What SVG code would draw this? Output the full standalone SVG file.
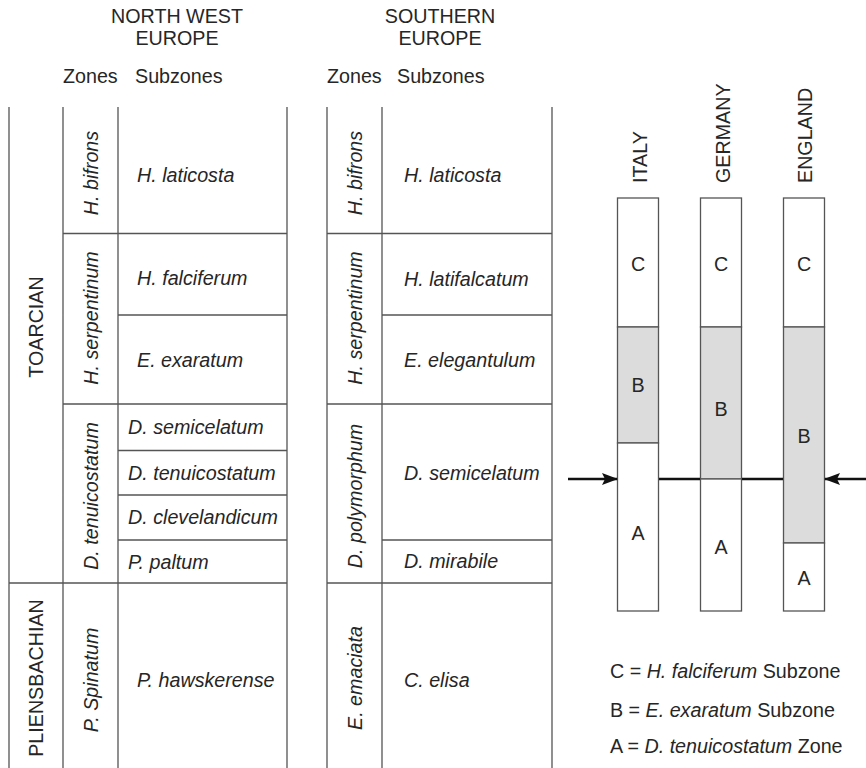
<svg xmlns="http://www.w3.org/2000/svg" width="866" height="768" viewBox="0 0 866 768">
<defs>
<style>
text{font-family:"Liberation Sans",Arial,sans-serif;font-size:19.7px;fill:#262626}
.i{font-style:italic}
.m{text-anchor:middle}
.ln{stroke:#555;stroke-width:1.3;fill:none}
.col{stroke:#555;stroke-width:1.3}
.ar{stroke:#111;stroke-width:2.4;fill:none}
</style>
<marker id="ah" viewBox="0 0 16 12" refX="15" refY="6" markerWidth="16" markerHeight="12" markerUnits="userSpaceOnUse" orient="auto">
<path d="M0,0 L16,6 L0,12 L3,6 Z" fill="#111"/>
</marker>
</defs>
<rect width="866" height="768" fill="#fff"/>

<g id="headers">
<text class="m" x="177" y="23">NORTH WEST</text>
<text class="m" x="177" y="45">EUROPE</text>
<text x="63" y="83">Zones</text>
<text x="135" y="83">Subzones</text>
<text class="m" x="440" y="23">SOUTHERN</text>
<text class="m" x="440" y="45">EUROPE</text>
<text x="327" y="83">Zones</text>
<text x="397" y="83">Subzones</text>
</g>

<g id="nw-table">
<path class="ln" d="M9,107V768 M63,107V768 M118,107V768 M287,107V768 M63,233.5H287 M118,315H287 M63,404H287 M118,450.5H287 M118,495H287 M118,540H287 M9,583H287"/>
<text class="m" transform="translate(43,327) rotate(-90)">TOARCIAN</text>
<text class="m" transform="translate(43,678) rotate(-90)">PLIENSBACHIAN</text>
<text class="m i" transform="translate(98,173) rotate(-90)">H. bifrons</text>
<text class="m i" transform="translate(98,318) rotate(-90)">H. serpentinum</text>
<text class="m i" transform="translate(98,496) rotate(-90)">D. tenuicostatum</text>
<text class="m i" transform="translate(98,680) rotate(-90)">P. Spinatum</text>
<text class="i" x="137" y="182">H. laticosta</text>
<text class="i" x="137" y="285">H. falciferum</text>
<text class="i" x="137" y="367">E. exaratum</text>
<text class="i" x="128" y="434">D. semicelatum</text>
<text class="i" x="128" y="480">D. tenuicostatum</text>
<text class="i" x="128" y="524">D. clevelandicum</text>
<text class="i" x="128" y="569">P. paltum</text>
<text class="i" x="137" y="687">P. hawskerense</text>
</g>

<g id="s-table">
<path class="ln" d="M327,107V768 M382,107V768 M552,107V768 M327,233.5H552 M382,315H552 M327,404H552 M382,540H552 M327,583H552"/>
<text class="m i" transform="translate(362,173) rotate(-90)">H. bifrons</text>
<text class="m i" transform="translate(362,318) rotate(-90)">H. serpentinum</text>
<text class="m i" transform="translate(362,496) rotate(-90)">D. polymorphum</text>
<text class="m i" transform="translate(362,678) rotate(-90)">E. emaciata</text>
<text class="i" x="404" y="182">H. laticosta</text>
<text class="i" x="404" y="286">H. latifalcatum</text>
<text class="i" x="404" y="367">E. elegantulum</text>
<text class="i" x="404" y="480">D. semicelatum</text>
<text class="i" x="404" y="568">D. mirabile</text>
<text class="i" x="404" y="687">C. elisa</text>
</g>

<g id="italy">
<rect class="col" x="617.5" y="198" width="41" height="129" fill="#fff"/>
<rect class="col" x="617.5" y="327" width="41" height="116" fill="#dcdcdc"/>
<rect class="col" x="617.5" y="443" width="41" height="168" fill="#fff"/>
<text transform="translate(647,183) rotate(-90)">ITALY</text>
<text class="m" x="638" y="271">C</text>
<text class="m" x="638" y="392">B</text>
<text class="m" x="638" y="540">A</text>
</g>

<g id="germany">
<rect class="col" x="700.5" y="198" width="41" height="129" fill="#fff"/>
<rect class="col" x="700.5" y="327" width="41" height="152" fill="#dcdcdc"/>
<rect class="col" x="700.5" y="479" width="41" height="132" fill="#fff"/>
<text transform="translate(730,183) rotate(-90)">GERMANY</text>
<text class="m" x="721" y="271">C</text>
<text class="m" x="721" y="416">B</text>
<text class="m" x="721" y="554">A</text>
</g>

<g id="england">
<rect class="col" x="783.5" y="198" width="41" height="129" fill="#fff"/>
<rect class="col" x="783.5" y="327" width="41" height="216" fill="#dcdcdc"/>
<rect class="col" x="783.5" y="543" width="41" height="68" fill="#fff"/>
<text transform="translate(812,183) rotate(-90)">ENGLAND</text>
<text class="m" x="804" y="271">C</text>
<text class="m" x="804" y="443">B</text>
<text class="m" x="804" y="585">A</text>
</g>

<g id="connectors">
<path class="ar" d="M568,479H617" marker-end="url(#ah)"/>
<path class="ar" d="M866,479H825" marker-end="url(#ah)"/>
<path class="ar" d="M659,479H700 M742,479H783"/>
</g>

<g id="legend">
<text x="610" y="678">C = <tspan class="i">H. falciferum</tspan> Subzone</text>
<text x="610" y="717">B = <tspan class="i">E. exaratum</tspan> Subzone</text>
<text x="610" y="753">A = <tspan class="i">D. tenuicostatum</tspan> Zone</text>
</g>
</svg>
